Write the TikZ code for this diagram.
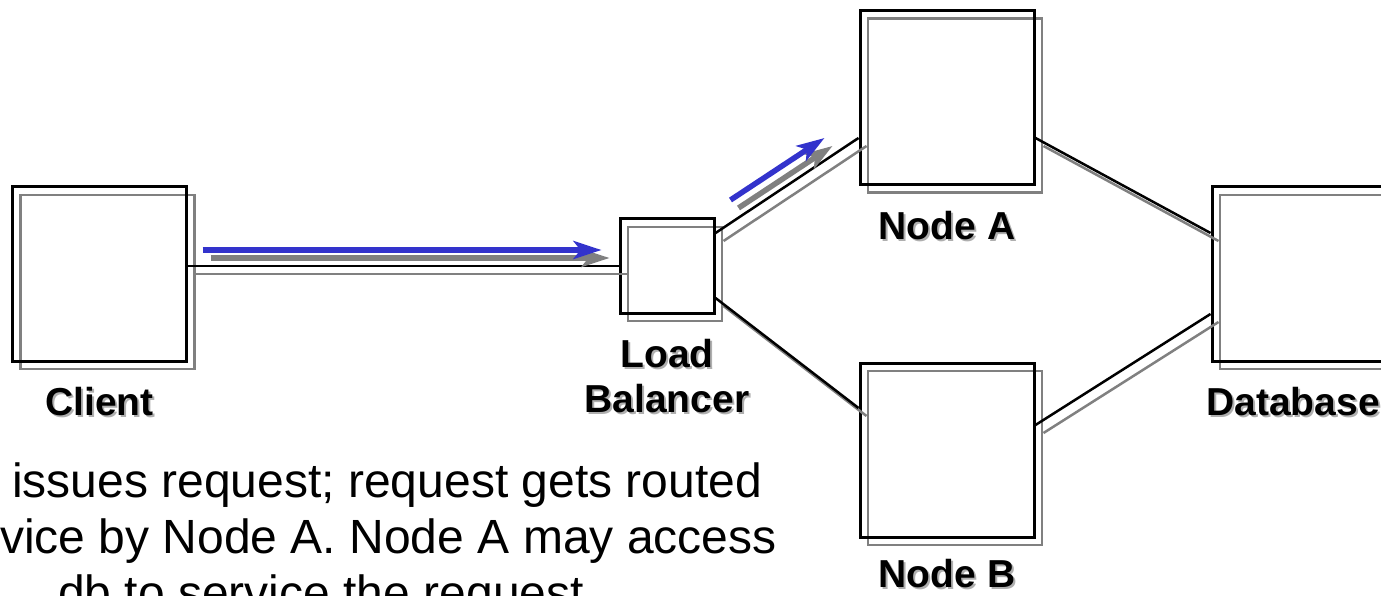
\documentclass[tikz,border=0pt]{standalone}
\usepackage{fontspec}
\setmainfont{Liberation Sans}
\usepackage{tikz}
\usetikzlibrary{arrows.meta}
\usetikzlibrary{positioning}
\definecolor{flowBlue}{RGB}{51,51,204}
\definecolor{shadowGray}{RGB}{128,128,128}
\definecolor{textGray}{RGB}{175,175,175}
\newcommand{\shadowtext}[1]{\makebox[0pt][l]{\hspace{2pt}\raisebox{-2pt}{\textcolor{textGray}{#1}}}#1}
\tikzset{dropShadow/.style={preaction={draw=shadowGray, line width=#1, transform canvas={shift={(8pt,-8pt)}}}}}
\tikzstyle{serverBox} = [rectangle, draw=black, line width=3pt, minimum size=174pt, dropShadow=2.8pt]
\tikzstyle{lbBox} = [serverBox, minimum size=94pt]
\tikzstyle{link} = [line width=2.5pt, dropShadow=2.5pt]
\tikzstyle{flow} = [line width=5.5pt, draw=flowBlue, -{Stealth[length=28pt, width=18pt, inset=7pt]}, dropShadow=5.5pt]
\tikzset{every label/.style={inner sep=0pt, yshift=-25pt, align=center, font=\fontsize{39}{45}\selectfont\bfseries}}

\begin{document}
\begin{tikzpicture}
                    \useasboundingbox (0,0) rectangle (1381pt,-596pt);
                    \clip (0,0) rectangle (1381pt,-596pt);
                    \node (client) [serverBox, label=below:{\shadowtext{Client}}] at (99.5pt,-274pt) {};
                    \node (lb) [lbBox, node distance=567.5pt, right of = client, yshift=8pt, label=below:{\shadowtext{Load}\\\shadowtext{Balancer}}] {};
                    \node (nodeA) [serverBox, node distance=280pt, right of = lb, yshift=168.5pt, label=below:{\shadowtext{Node A}}] {};
                    \node (nodeB) [serverBox, node distance=352.5pt, below of = nodeA, label={[yshift=4pt]below:{\shadowtext{Node B}}}] {};
                    \node (db) [serverBox, node distance=352pt, right of = nodeA, yshift=-176.5pt, label={[xshift=-6pt]below:{\shadowtext{Database}}}] {};
                    \node (caption) [anchor=north west, inner sep=0pt, align=left, font=\fontsize{48}{56}\selectfont] at (0pt,-463pt)
                        {\hspace*{12pt}issues request; request gets routed\\vice by Node A. Node A may access\\\hspace*{58pt}db to service the request};
                    \draw [link] (lb.west -| client.east) -- (lb.west);
                    \draw [link] ([yshift=33pt]lb.east) -- ([yshift=-40.5pt]nodeA.west);
                    \draw [link] ([yshift=-32pt]lb.east) -- ([yshift=42pt]nodeB.west);
                    \draw [link] ([yshift=-40.5pt]nodeA.east) -- ([yshift=41pt]db.west);
                    \draw [link] ([yshift=25pt]nodeB.east) -- ([yshift=-40pt]db.west);
                    \draw [flow] ([xshift=-416pt, yshift=16pt]lb.west) -- ([xshift=-17pt, yshift=16pt]lb.west);
                    \draw [flow] ([xshift=15pt, yshift=66pt]lb.east) -- ([xshift=-34pt, yshift=-40.5pt]nodeA.west);
                \end{tikzpicture}
\end{document}
